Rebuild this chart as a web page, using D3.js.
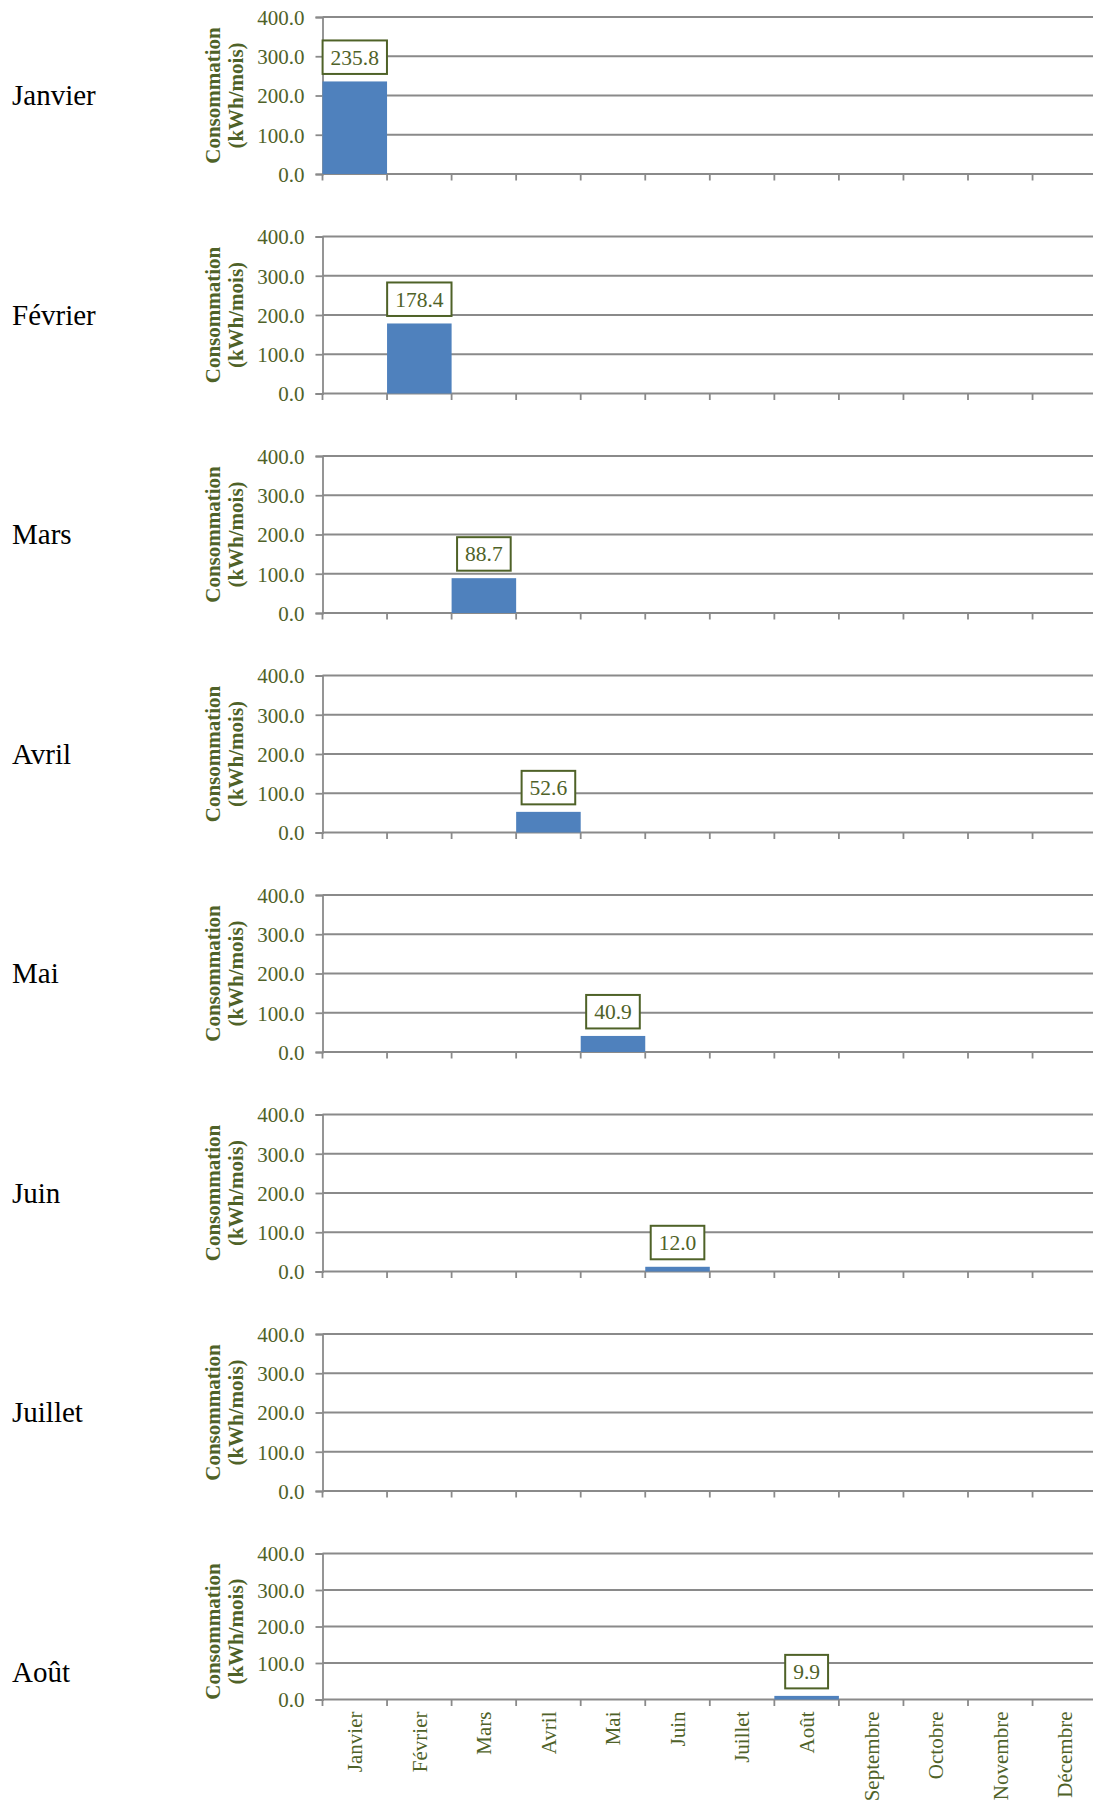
<!DOCTYPE html>
<html>
<head>
<meta charset="utf-8">
<script src="https://cdn.jsdelivr.net/npm/d3@7"></script>
<style>
  html, body { margin: 0; padding: 0; background: #fff; overflow: hidden; }
  svg { display: block; }
</style>
</head>
<body>
<script>
// ---- Data ----
const months = ["Janvier", "Février", "Mars", "Avril", "Mai", "Juin", "Juillet", "Août", "Septembre", "Octobre", "Novembre", "Décembre"];
const panelMonths = ["Janvier", "Février", "Mars", "Avril", "Mai", "Juin", "Juillet", "Août"];
const consumption = [235.8, 178.4, 88.7, 52.6, 40.9, 12.0, null, 9.9];
const yTicks = [0, 100, 200, 300, 400];
const yTitleLines = ["Consommation", "(kWh/mois)"];

// ---- Layout ----
const W = 1093, H = 1805;
const olive = "#4F6228";
const grid = "#8a8a8a";
const barColor = "#4F81BD";
const serif = "'Liberation Serif', 'Times New Roman', serif";

const svg = d3.select("body").append("svg").attr("width", W).attr("height", H);

const x = d3.scaleBand().domain(months).range([322.5, 322.5 + 12 * 64.55]).padding(0);
const fmt = d3.format(".1f");

panelMonths.forEach((m, i) => {
  const last = i === panelMonths.length - 1;
  const top = 17 + i * 219.5;
  const zero = top + (last ? 146 : 157);
  const y = d3.scaleLinear().domain([0, 400]).range([zero, top]);
  const g = svg.append("g");

  // gridlines
  g.selectAll("line.grid").data(yTicks).enter().append("line")
    .attr("class", "grid")
    .attr("x1", x.range()[0]).attr("x2", W)
    .attr("y1", d => y(d)).attr("y2", d => y(d))
    .attr("stroke", grid).attr("stroke-width", 1.8);

  // y axis
  const ya = d3.axisLeft(y).tickValues(yTicks).tickSize(7).tickPadding(11).tickFormat(fmt);
  const yg = g.append("g").attr("transform", `translate(${x.range()[0]},0)`).call(ya);
  yg.select(".domain").attr("stroke", grid).attr("stroke-width", 1.8);
  yg.selectAll(".tick line").attr("stroke", grid).attr("stroke-width", 1.8);
  yg.selectAll(".tick text").attr("fill", olive).attr("font-family", serif).attr("font-size", 21).attr("dy", "0.35em");

  // x axis ticks at band boundaries
  const bounds = months.map(d => x(d));
  g.selectAll("line.xt").data(bounds).enter().append("line")
    .attr("class", "xt")
    .attr("x1", d => d).attr("x2", d => d)
    .attr("y1", zero).attr("y2", zero + 6.5)
    .attr("stroke", grid).attr("stroke-width", 1.8);

  // bar + label
  const v = consumption[i];
  if (v !== null && v !== undefined) {
    g.append("rect")
      .attr("x", x(m)).attr("width", x.bandwidth())
      .attr("y", y(v)).attr("height", zero - y(v))
      .attr("fill", barColor);
    const cx = x(m) + x.bandwidth() / 2;
    const fs = 21.5;
    const bh = 33.5;
    const bBottom = y(v) - 7.5;
    const bTop = bBottom - bh;
    const box = g.append("rect")
      .attr("y", bTop).attr("height", bh)
      .attr("fill", "#fff").attr("stroke", olive).attr("stroke-width", 2);
    const t = g.append("text")
      .attr("x", cx).attr("y", bTop + bh / 2 + 0.35 * fs)
      .attr("text-anchor", "middle")
      .attr("font-family", serif).attr("font-size", fs).attr("fill", olive)
      .text(fmt(v));
    const tw = t.node().getComputedTextLength();
    box.attr("x", cx - tw / 2 - 8).attr("width", tw + 16);
  }

  // axis title
  const cy = (top + zero) / 2 + (last ? 5 : 0);
  const tt = g.append("text")
    .attr("transform", `translate(0,${cy}) rotate(-90)`)
    .attr("text-anchor", "middle")
    .attr("font-family", serif).attr("font-size", 21).attr("font-weight", "bold")
    .attr("fill", olive);
  tt.append("tspan").attr("x", 0).attr("y", 220).text(yTitleLines[0]);
  tt.append("tspan").attr("x", 0).attr("y", 243).text(yTitleLines[1]);

  // month name on the left
  const labelBase = last ? 1682 : (top + zero) / 2 + 9.8;
  svg.append("text")
    .attr("x", 12).attr("y", labelBase)
    .attr("font-family", serif).attr("font-size", 29).attr("fill", "#000")
    .text(m);

  // x labels for the last panel
  if (last) {
    g.selectAll("text.xl").data(months).enter().append("text")
      .attr("class", "xl")
      .attr("transform", d => `translate(${x(d) + x.bandwidth() / 2},${zero + 12}) rotate(-90)`)
      .attr("text-anchor", "end").attr("dy", "0.35em")
      .attr("font-family", serif).attr("font-size", 21).attr("fill", olive)
      .text(d => d);
  }
});
</script>
</body>
</html>
